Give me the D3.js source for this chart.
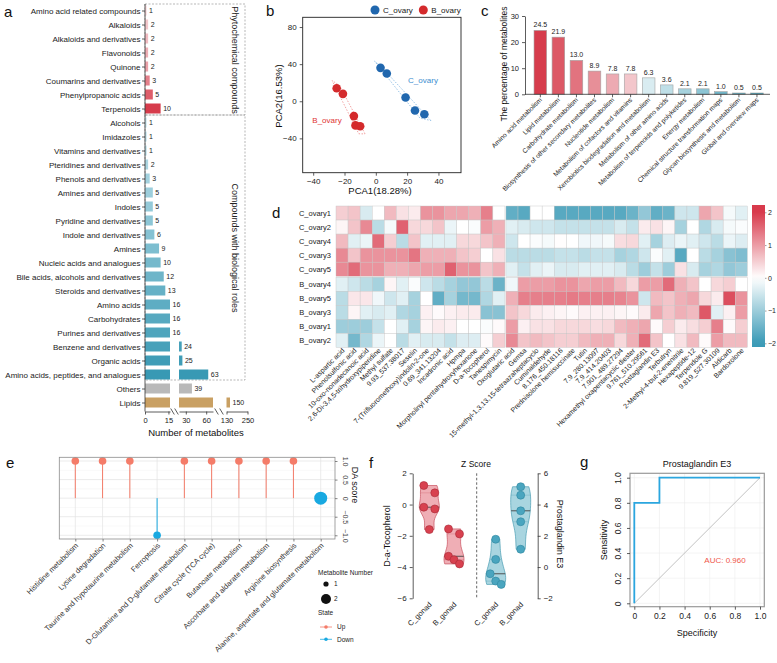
<!DOCTYPE html>
<html>
<head>
<meta charset="utf-8">
<script src="https://cdn.jsdelivr.net/npm/d3@7"></script>
<style>
body { margin: 0; background: #fff; }
svg { display: block; font-family: "Liberation Sans", Arial, sans-serif; }
</style>
</head>
<body>
<div id="fig"></div>
<script>
// ---------- data ----------
const classNames = [
  "Amino acid related compounds", "Alkaloids", "Alkaloids and derivatives", "Flavonoids", "Quinone",
  "Coumarins and derivatives", "Phenylpropanoic acids", "Terpenoids",
  "Alcohols", "Imidazoles", "Vitamins and derivatives", "Pteridines and derivatives", "Phenols and derivatives",
  "Amines and derivatives", "Indoles", "Pyridine and derivatives", "Indole and derivatives", "Amines",
  "Nucleic acids and analogues", "Bile acids, alcohols and derivatives", "Steroids and derivatives",
  "Amino acids", "Carbohydrates", "Purines and derivatives", "Benzene and derivatives", "Organic acids",
  "Amino acids, peptides, and analogues", "Others", "Lipids"
];
const classCounts = [1, 2, 2, 2, 2, 3, 5, 10, 1, 1, 1, 2, 3, 5, 5, 5, 6, 9, 10, 12, 13, 16, 16, 16, 24, 25, 63, 39, 150];
const classGroup = [
  "phyto", "phyto", "phyto", "phyto", "phyto", "phyto", "phyto", "phyto",
  "bio", "bio", "bio", "bio", "bio", "bio", "bio", "bio", "bio", "bio", "bio", "bio", "bio",
  "bio", "bio", "bio", "bio", "bio", "bio", "other", "lipid"
];

const pcaC = [[3, 36], [7, 30], [19, 4], [25, -10], [31, -14]];
const pcaB = [[-25, 14], [-21, 8], [-14, -16], [-13, -26], [-10, -27]];

const pathwayNames = [
  "Amino acid metabolism", "Lipid metabolism", "Carbohydrate metabolism",
  "Biosynthesis of other secondary metabolites", "Nucleotide metabolism",
  "Metabolism of cofactors and vitamins", "Xenobiotics biodegradation and metabolism",
  "Metabolism of other amino acids", "Metabolism of terpenoids and polyketides", "Energy metabolism",
  "Chemical structure transformation maps", "Glycan biosynthesis and metabolism", "Global and overview maps"
];
const pathwayPct = [24.5, 21.9, 13.0, 8.9, 7.8, 7.8, 6.3, 3.6, 2.1, 2.1, 1.0, 0.5, 0.5];

const sampleNames = ["C_ovary1", "C_ovary2", "C_ovary4", "C_ovary3", "C_ovary5",
  "B_ovary4", "B_ovary5", "B_ovary3", "B_ovary1", "B_ovary2"];
const metaboliteNames = [
  "L-aspartic acid", "Phenolsulfonic acid", "10-oxo-nonadecanoic acid", "2,6-Di-3,4,5-trihydroxypiperidine",
  "Methyl sulfate", "9.93_537.38017", "Seselin", "7-(Trifluoromethoxy)indolin-2-one", "0.69_341.13204",
  "Incadronic acid", "Hpmpa", "Morpholinyl pentahydroxyhexanone", "D-a-Tocopherol", "Tanespimycin",
  "Oxoglutaric acid", "Gemsa", "15-methyl-1,3,13,15-tetraazaheptacyclo", "Cuminaldehyde", "8.176_450.18116",
  "Prednisolone hemisuccinate", "Tutin", "7.9_280.13097", "7.9_414.20403", "7.901_489.27294",
  "Hexamethyl oxapentacyclic diester", "9.761_510.29561", "Prostaglandin E3", "Terbutryn",
  "2-Methyl-4-but-2-enenitrile", "Hexapeptide-12", "Terpendole G", "9.819_527.30109", "Aldicarb", "Bardoxolone"
];
const zValues = [
  [0.5, 0.6, -0.4, 0.0, 0.7, 0.3, 0.2, 1.1, 1.1, 0.9, 0.9, 0.8, 1.3, 0.0, -1.6, -1.7, 0.0, 0.0, -1.7, -1.7, -1.7, -1.7, -1.7, -1.7, -1.5, -1.1, -1.6, -1.5, -0.5, -0.5, 0.9, 0.6, -0.1, -0.3],
  [0.1, 0.6, 1.2, -0.7, -0.1, 1.6, 0.4, 0.4, 0.6, -0.2, 0.0, -0.05, 1.0, 0.8, -0.3, -0.4, -0.5, -0.5, -0.6, -0.6, -0.6, -0.6, -0.6, -0.4, -0.6, 0.2, 0.3, 0.1, -0.9, 0.0, -0.8, -0.4, -0.1, -0.05],
  [0.7, -0.3, -0.2, 1.5, 0.5, -0.7, 0.6, -0.3, -0.3, -0.3, 0.4, 0.4, 0.6, 0.8, -0.5, 0.0, -0.05, -0.1, 0.02, 0.0, -0.15, -0.15, -0.1, 0.35, 0.4, -0.3, -0.9, -0.35, -0.2, -0.3, -0.5, -0.7, -0.2, -0.35],
  [1.2, 0.6, 1.1, 1.1, 1.1, 1.1, 1.4, 0.8, 0.8, 0.8, 0.6, 0.5, 0.0, 0.3, -0.7, -0.7, -0.7, -0.7, -0.6, -0.6, -0.7, -0.6, -0.6, -0.9, -0.8, -0.5, -0.05, -0.3, -1.7, 0.0, -0.7, -0.9, -1.2, -1.3],
  [1.2, 1.5, 1.1, 1.1, 0.8, 0.8, 0.9, 1.0, 1.0, 1.6, 1.1, 1.1, 0.6, 0.8, -0.3, -0.6, -0.3, -0.2, -0.4, -0.4, -0.3, -0.3, -0.3, -0.4, -0.7, -1.0, -0.6, -1.0, 0.3, -0.4, -0.9, -0.8, -1.1, -1.0],
  [-0.3, -0.5, -0.7, -0.9, 0.1, -0.3, -0.05, -0.5, -0.7, -0.9, -1.1, -1.1, -0.7, -1.5, -0.15, 1.0, 1.0, 1.0, 1.1, 1.1, 0.9, 1.0, 1.0, 0.7, 0.4, 1.0, 1.0, 1.5, 0.8, 0.6, 0.0, 0.4, 0.5, 0.0],
  [-0.7, 0.25, 0.25, -0.15, -0.5, -0.3, -0.9, 0.0, -1.6, -0.9, -1.4, -1.4, -0.8, -0.3, 0.8, 1.3, 1.3, 1.3, 1.3, 1.35, 1.3, 1.3, 1.3, 1.25, 1.1, -0.5, 0.7, 0.6, 0.8, 0.9, 0.4, 0.2, 1.8, 1.1],
  [-0.7, 0.1, -0.3, -0.4, -0.3, -0.8, -0.9, 0.15, 0.05, 0.15, 0.2, 0.2, -1.2, -1.2, 0.6, 0.4, 0.2, 0.15, 0.1, 0.05, 0.15, 0.15, 0.15, 0.1, 0.05, 0.2, 0.9, 0.6, 0.8, 0.7, 1.7, -0.3, 0.15, 1.0],
  [-1.0, -1.0, -1.0, -0.6, 0.0, -0.3, -0.9, 0.1, 0.2, 0.15, 0.0, 0.0, -0.05, 0.05, 1.0, 0.15, 0.3, 0.3, 0.4, 0.4, 0.4, 0.35, 0.4, 0.7, 0.8, 0.9, 0.05, 0.5, 0.2, 0.35, 0.5, 1.3, 0.05, 0.5],
  [-0.3, -1.4, -0.8, -0.2, 0.0, -0.7, -0.3, -0.4, -0.4, -0.6, -0.35, -0.35, 0.05, 0.5, 1.2, 0.6, 0.7, 0.6, 0.5, 0.5, 0.7, 0.8, 0.8, 0.4, 0.8, 1.5, 0.6, 0.0, 0.3, 0.7, 0.05, 1.0, 0.7, 0.7]
];
const heatTicks = [2, 1, 0, -1, -2];

const daPathways = [
  "Histidine metabolism", "Lysine degradation", "Taurine and hypotaurine metabolism", "Ferroptosis",
  "D-Glutamine and D-glutamate metabolism", "Citrate cycle (TCA cycle)", "Butanoate metabolism",
  "Ascorbate and aldarate metabolism", "Arginine biosynthesis", "Alanine, aspartate and glutamate metabolism"
];
const daScores = [1, 1, 1, -1, 1, 1, 1, 1, 1, 0];
const daCounts = [1, 1, 1, 1, 1, 1, 1, 1, 1, 2];
const daState = ["Up", "Up", "Up", "Down", "Up", "Up", "Up", "Up", "Up", "Down"];

const gonadGroups = ["C_gonad", "B_gonad"];
const tocoC = [1.22, 0.75, -0.17, -0.28, -1.6];
const tocoB = [-1.56, -1.88, -3.31, -3.53, -3.8];
const pgC = [1.78, 0.49, -0.43, -0.9, -1.11];
const pgB = [5.14, 4.6, 3.6, 2.9, 1.14];

const rocX = [0, 0, 0.2, 0.2, 1.0];
const rocY = [0, 0.8, 0.8, 1.0, 1.0];
const aucLabel = "AUC: 0.960";

// ---------- setup ----------
const W = 777, H = 663;
const FONT = "'Liberation Sans', Arial, sans-serif";
const svg = d3.select("#fig").append("svg")
  .attr("width", W).attr("height", H)
  .attr("viewBox", `0 0 ${W} ${H}`);
svg.append("rect").attr("width", W).attr("height", H).attr("fill", "#fff");

const RED = "#d63c4c", TEAL = "#3a9ab6";

function styleAxis(g, fs) {
  g.attr("font-family", FONT).attr("font-size", fs);
  g.selectAll("path, line").attr("stroke", "#333").attr("stroke-width", 0.8);
  g.selectAll("text").attr("fill", "#222");
}
function panelLabel(t, x, y) {
  svg.append("text").attr("x", x).attr("y", y).attr("font-size", 15).attr("fill", "#111").text(t);
}

panelLabel("a", 4, 17);
panelLabel("b", 266, 16);
panelLabel("c", 481, 16);
panelLabel("d", 272, 218);
panelLabel("e", 6, 468);
panelLabel("f", 369, 468);
panelLabel("g", 580, 467);

// ---------- panel a ----------
const gA = svg.append("g");
const yA = d3.scalePoint().domain(classNames).range([10.5, 402.5]);
const segA = [
  { x: d3.scaleLinear().domain([0, 16]).range([145, 170]), ticks: [0, 15] },
  { x: d3.scaleLinear().domain([20, 70]).range([179, 213]), ticks: [30, 60] },
  { x: d3.scaleLinear().domain([130, 250]).range([226.5, 247.5]), ticks: [130, 250] }
];
const phytoCol = d3.scaleLinear().domain([0, 4, 7]).range(["#f4d3d7", "#eba2aa", RED]);
const bioCol = d3.scaleLinear().domain([0, 18]).range(["#c2e2eb", "#3899b4"]);
function classColor(i) {
  const g = classGroup[i];
  if (g === "phyto") return phytoCol(i);
  if (g === "bio") return bioCol(i - 8);
  if (g === "other") return "#b9b9b9";
  return "#c9a063";
}

// group boxes
gA.append("rect").attr("x", 145).attr("y", 4).attr("width", 100).attr("height", 111)
  .attr("fill", "none").attr("stroke", "#999").attr("stroke-width", 0.7).attr("stroke-dasharray", "2,1.5");
gA.append("rect").attr("x", 145).attr("y", 115).attr("width", 100).attr("height", 265)
  .attr("fill", "none").attr("stroke", "#999").attr("stroke-width", 0.7).attr("stroke-dasharray", "2,1.5");
gA.append("text").attr("transform", "translate(232,60) rotate(90)").attr("text-anchor", "middle")
  .attr("font-size", 9).attr("fill", "#222").text("Phytochemical compounds");
gA.append("text").attr("transform", "translate(232,248) rotate(90)").attr("text-anchor", "middle")
  .attr("font-size", 9).attr("fill", "#222").text("Compounds with biological roles");

classNames.forEach((name, i) => {
  const v = classCounts[i];
  const y = yA(name);
  let endX = 145;
  segA.forEach(s => {
    const [d0, d1] = s.x.domain();
    if (v > d0) {
      const x0 = s.x(d0), x1 = s.x(Math.min(v, d1));
      gA.append("rect").attr("x", x0).attr("y", y - 5).attr("width", Math.max(x1 - x0, 1.4)).attr("height", 10)
        .attr("fill", classColor(i));
      endX = x0 + Math.max(x1 - x0, 1.4);
    }
  });
  gA.append("text").attr("x", endX + 2.5).attr("y", y + 2.5).attr("font-size", 7).attr("fill", "#222").text(v);
});

// y axis
const gAy = gA.append("g").attr("transform", "translate(145,0)")
  .call(d3.axisLeft(yA).tickSize(3).tickSizeOuter(0));
styleAxis(gAy, 8);
gAy.select(".domain").attr("d", "M0,4V411.5");
gAy.selectAll("text").attr("x", -4.5);

// x axis segments
segA.forEach(s => {
  const g = gA.append("g").attr("transform", "translate(0,411.5)")
    .call(d3.axisBottom(s.x).tickValues(s.ticks).tickSize(3).tickSizeOuter(0));
  styleAxis(g, 7.5);
});
[172.5, 176.5, 216.5, 221.5].forEach(x => {
  gA.append("line").attr("x1", x - 1.8).attr("y1", 408.5).attr("x2", x + 1.8).attr("y2", 414.5)
    .attr("stroke", "#333").attr("stroke-width", 0.8);
});
gA.append("text").attr("x", 196).attr("y", 436).attr("text-anchor", "middle").attr("font-size", 9.5)
  .attr("fill", "#111").text("Number of metabolites");

// ---------- panel b ----------
const gB = svg.append("g");
const xB = d3.scaleLinear().domain([-46.7, 54.4]).range([302.7, 461]);
const yB = d3.scaleLinear().domain([-77, 90.5]).range([172.7, 17.3]);
const colC = "#2067ae", colB = "#d42a2c";

function hullPath(pts) {
  const px = pts.map(p => [xB(p[0]), yB(p[1])]);
  const h = d3.polygonHull(px);
  const c = d3.polygonCentroid(h);
  const ex = h.map(([x, y]) => {
    const dx = x - c[0], dy = y - c[1], L = Math.hypot(dx, dy);
    return [x + dx / L * 9, y + dy / L * 9];
  });
  return "M" + ex.join("L") + "Z";
}
gB.append("path").attr("d", hullPath(pcaC)).attr("fill", "none").attr("stroke", "#7db4df")
  .attr("stroke-width", 0.8).attr("stroke-dasharray", "1.5,1.5");
gB.append("path").attr("d", hullPath(pcaB)).attr("fill", "none").attr("stroke", "#ef8d8d")
  .attr("stroke-width", 0.8).attr("stroke-dasharray", "1.5,1.5");

gB.selectAll(".pc").data(pcaC).join("circle").attr("cx", d => xB(d[0])).attr("cy", d => yB(d[1]))
  .attr("r", 4.3).attr("fill", colC);
gB.selectAll(".pb").data(pcaB).join("circle").attr("cx", d => xB(d[0])).attr("cy", d => yB(d[1]))
  .attr("r", 4.3).attr("fill", colB);
gB.append("text").attr("x", 423).attr("y", 83).attr("text-anchor", "middle").attr("font-size", 8)
  .attr("fill", "#3d8ecf").text("C_ovary");
gB.append("text").attr("x", 327).attr("y", 123).attr("text-anchor", "middle").attr("font-size", 8)
  .attr("fill", "#e03333").text("B_ovary");

gB.append("rect").attr("x", 302.7).attr("y", 17.3).attr("width", 461 - 302.7).attr("height", 172.7 - 17.3)
  .attr("fill", "none").attr("stroke", "#222").attr("stroke-width", 0.9);
const gBx = gB.append("g").attr("transform", "translate(0,172.7)")
  .call(d3.axisBottom(xB).tickValues([-40, -20, 0, 20, 40]).tickSize(3).tickSizeOuter(0));
styleAxis(gBx, 8);
gBx.select(".domain").remove();
const gBy = gB.append("g").attr("transform", "translate(302.7,0)")
  .call(d3.axisLeft(yB).tickValues([-40, 0, 40, 80]).tickSize(3).tickSizeOuter(0));
styleAxis(gBy, 8);
gBy.select(".domain").remove();
gB.append("text").attr("x", 380).attr("y", 194).attr("text-anchor", "middle").attr("font-size", 9.5)
  .attr("fill", "#111").text("PCA1(18.28%)");
gB.append("text").attr("transform", "translate(282,96) rotate(-90)").attr("text-anchor", "middle")
  .attr("font-size", 9.5).attr("fill", "#111").text("PCA2(16.53%)");
// legend
const legB = [["C_ovary", colC, 375], ["B_ovary", colB, 423.3]];
legB.forEach(([t, c, x]) => {
  gB.append("circle").attr("cx", x).attr("cy", 10).attr("r", 4.5).attr("fill", c);
  gB.append("text").attr("x", x + 8).attr("y", 13).attr("font-size", 8).attr("fill", "#222").text(t);
});

// ---------- panel c ----------
svg.append("clipPath").attr("id", "clipC").append("rect")
  .attr("x", 390).attr("y", 0).attr("width", 387).attr("height", 200);
const gC = svg.append("g").attr("clip-path", "url(#clipC)");
const xC = d3.scaleBand().domain(pathwayNames).range([528.6, 768.7]).paddingInner(0.3).paddingOuter(0.3);
const yC = d3.scaleLinear().domain([0, 30]).range([94.3, 16]);
const redsC = d3.scaleLinear().domain([0, 5]).range(["#d63c4c", "#f3c6cb"]);
const bluesC = d3.scaleLinear().domain([6, 12]).range(["#d9ecf1", "#3f9db6"]);
gC.selectAll(".barc").data(pathwayNames).join("rect")
  .attr("x", d => xC(d)).attr("width", xC.bandwidth())
  .attr("y", (d, i) => yC(pathwayPct[i])).attr("height", (d, i) => yC(0) - yC(pathwayPct[i]))
  .attr("fill", (d, i) => i <= 5 ? redsC(i) : bluesC(i))
  .attr("stroke", "#a3a3a3").attr("stroke-width", 0.6);
gC.selectAll(".valc").data(pathwayNames).join("text")
  .attr("x", d => xC(d) + xC.bandwidth() / 2).attr("y", (d, i) => yC(pathwayPct[i]) - 3)
  .attr("text-anchor", "middle").attr("font-size", 7).attr("fill", "#222")
  .text((d, i) => pathwayPct[i].toFixed(1));
const gCy = gC.append("g").attr("transform", "translate(525,0)")
  .call(d3.axisLeft(yC).tickValues([0, 10, 20, 30]).tickSize(3).tickSizeOuter(0));
styleAxis(gCy, 7.5);
const gCx = gC.append("g").attr("transform", "translate(0,94.3)")
  .call(d3.axisBottom(xC).tickSize(3).tickSizeOuter(0));
styleAxis(gCx, 6.6);
gCx.select(".domain").attr("d", "M525,0H770");
gCx.selectAll("text").attr("text-anchor", "end").attr("dy", 0).attr("y", 0)
  .attr("transform", "translate(2,6) rotate(-45)");
gC.append("text").attr("transform", "translate(507,64) rotate(-90)").attr("text-anchor", "middle")
  .attr("font-size", 8.5).attr("fill", "#111").text("The percentage of metabolites");

// ---------- panel d ----------
const gD = svg.append("g");
const xH = d3.scaleBand().domain(d3.range(metaboliteNames.length)).range([336, 746.3]);
const yH = d3.scaleBand().domain(d3.range(sampleNames.length)).range([206, 346.4]);
const heatCol = d3.scaleLinear().domain([-2, 0, 2]).range([TEAL, "#ffffff", "#d83a4c"]).clamp(true);
const colX = j => xH(j) + (j >= 14 ? 1 : 0);
const rowY = i => yH(i) + (i >= 5 ? 1 : 0);
zValues.forEach((row, i) => {
  row.forEach((v, j) => {
    gD.append("rect").attr("x", colX(j)).attr("y", rowY(i))
      .attr("width", xH.bandwidth()).attr("height", yH.bandwidth())
      .attr("fill", heatCol(v)).attr("stroke", "#c4c4c4").attr("stroke-width", 0.4);
  });
});
gD.selectAll(".rowlab").data(sampleNames).join("text")
  .attr("x", 331).attr("y", (d, i) => rowY(i) + yH.bandwidth() / 2 + 2.6)
  .attr("text-anchor", "end").attr("font-size", 7.5).attr("fill", "#222").text(d => d);
gD.selectAll(".collab").data(metaboliteNames).join("text")
  .attr("transform", (d, j) => `translate(${colX(j) + xH.bandwidth() / 2 + 3},351) rotate(-45)`)
  .attr("text-anchor", "end").attr("font-size", 7).attr("fill", "#222").text(d => d);
// colour key
const yKey = d3.scaleLinear().domain([-2, 2]).range([343.3, 212.3]);
const grad = svg.append("defs").append("linearGradient").attr("id", "heatGrad")
  .attr("x1", 0).attr("y1", 1).attr("x2", 0).attr("y2", 0);
const kLo = yKey.invert(347), kHi = yKey.invert(205);
grad.selectAll("stop").data(d3.range(0, 1.0001, 0.05)).join("stop")
  .attr("offset", d => `${d * 100}%`)
  .attr("stop-color", d => heatCol(kLo + d * (kHi - kLo)));
gD.append("rect").attr("x", 752).attr("y", 205).attr("width", 13).attr("height", 142).attr("fill", "url(#heatGrad)");
const gKey = gD.append("g").attr("transform", "translate(765,0)")
  .call(d3.axisRight(yKey).tickValues(heatTicks).tickSize(1.5).tickPadding(1.5).tickFormat(d3.format("d")));
styleAxis(gKey, 7);
gKey.select(".domain").remove();
gKey.selectAll("line").attr("stroke", "#888");

// ---------- panel e ----------
const gE = svg.append("g");
const xE = d3.scalePoint().domain(daPathways).range([75.3, 320.7]);
const yE = d3.scaleLinear().domain([-1.1, 1.1]).range([539, 457.3]);
const stateCol = { Up: "#f47c69", Down: "#19a9e1" };
[-0.75, -0.25, 0.25, 0.75].forEach(v => {
  gE.append("line").attr("x1", 59.3).attr("x2", 335).attr("y1", yE(v)).attr("y2", yE(v))
    .attr("stroke", "#f1f1f1").attr("stroke-width", 0.5);
});
[-1, -0.5, 0, 0.5, 1].forEach(v => {
  gE.append("line").attr("x1", 59.3).attr("x2", 335).attr("y1", yE(v)).attr("y2", yE(v))
    .attr("stroke", "#e3e3e3").attr("stroke-width", 0.7);
});
daPathways.forEach(p => {
  gE.append("line").attr("x1", xE(p)).attr("x2", xE(p)).attr("y1", 457.3).attr("y2", 539)
    .attr("stroke", "#e3e3e3").attr("stroke-width", 0.7);
});
daPathways.forEach((p, i) => {
  gE.append("line").attr("x1", xE(p)).attr("x2", xE(p)).attr("y1", yE(0)).attr("y2", yE(daScores[i]))
    .attr("stroke", stateCol[daState[i]]).attr("stroke-width", 1);
});
daPathways.forEach((p, i) => {
  gE.append("circle").attr("cx", xE(p)).attr("cy", yE(daScores[i]))
    .attr("r", daCounts[i] === 2 ? 6.5 : 3.8).attr("fill", stateCol[daState[i]]);
});
gE.append("rect").attr("x", 59.3).attr("y", 457.3).attr("width", 335 - 59.3).attr("height", 539 - 457.3)
  .attr("fill", "none").attr("stroke", "#8c8c8c").attr("stroke-width", 0.8);
const gEy = gE.append("g").attr("transform", "translate(335,0)")
  .call(d3.axisRight(yE).tickValues([-1, -0.5, 0, 0.5, 1]).tickSize(2.5).tickFormat(d => d === 0 ? "0" : d3.format(".1f")(d)));
styleAxis(gEy, 7);
gEy.select(".domain").remove();
gEy.selectAll("line").attr("stroke", "#666");
gEy.selectAll("text").attr("text-anchor", "middle").attr("dy", 0).attr("x", 0)
  .attr("transform", "translate(8,0) rotate(90)").attr("fill", "#444");
gE.append("text").attr("transform", "translate(352,485) rotate(90)").attr("text-anchor", "middle")
  .attr("font-size", 9).attr("fill", "#111").text("DA score");
const gEx = gE.append("g").attr("transform", "translate(0,539)")
  .call(d3.axisBottom(xE).tickSize(2.5).tickSizeOuter(0));
styleAxis(gEx, 7.5);
gEx.select(".domain").remove();
gEx.selectAll("line").attr("stroke", "#666");
gEx.selectAll("text").attr("text-anchor", "end").attr("dy", 0).attr("y", 0)
  .attr("transform", "translate(3,7) rotate(-45)").attr("fill", "#333");
// legend
gE.append("text").attr("x", 318).attr("y", 575).attr("font-size", 6.5).attr("fill", "#222").text("Metabolite Number");
[[1, 584, 2.6], [2, 599, 5]].forEach(([n, y, r]) => {
  gE.append("circle").attr("cx", 326).attr("cy", y).attr("r", r).attr("fill", "#111");
  gE.append("text").attr("x", 334).attr("y", y + 2.3).attr("font-size", 6.5).attr("fill", "#222").text(n);
});
gE.append("text").attr("x", 318).attr("y", 615).attr("font-size", 6.5).attr("fill", "#222").text("State");
[["Up", 627], ["Down", 639.3]].forEach(([s, y]) => {
  gE.append("line").attr("x1", 320).attr("x2", 332).attr("y1", y).attr("y2", y)
    .attr("stroke", stateCol[s]).attr("stroke-width", 0.8);
  gE.append("circle").attr("cx", 326).attr("cy", y).attr("r", 1.8).attr("fill", stateCol[s]);
  gE.append("text").attr("x", 337).attr("y", y + 2.3).attr("font-size", 6.5).attr("fill", "#222").text(s);
});

// ---------- panel f ----------
const gF = svg.append("g");
const yFL = d3.scaleLinear().domain([-6, 2]).range([598.3, 473.3]);
const yFR = d3.scaleLinear().domain([-2, 6]).range([598.3, 473.3]);
const xFL = d3.scalePoint().domain(gonadGroups).range([429.3, 454]);
const xFR = d3.scalePoint().domain(gonadGroups).range([495.7, 520.7]);

function nrd0(v) {
  const s = v.slice().sort(d3.ascending);
  const sd = d3.deviation(s);
  const iqr = d3.quantile(s, 0.75) - d3.quantile(s, 0.25);
  const lo = Math.min(sd, iqr / 1.34) || sd;
  return 0.9 * lo * Math.pow(s.length, -0.2);
}
function violin(values, cx, yS, fill, stroke, ptFill, ptStroke) {
  const bw = nrd0(values);
  const lo = d3.min(values), hi = d3.max(values);
  const ys = d3.range(0, 21).map(k => lo + (hi - lo) * k / 20);
  const dens = ys.map(y => d3.mean(values, v => Math.exp(-0.5 * ((y - v) / bw) ** 2)));
  const wS = d3.scaleLinear().domain([0, d3.max(dens)]).range([0, 10]);
  const pts = ys.map((y, k) => [y, dens[k]]);
  const area = d3.area().curve(d3.curveLinear)
    .y(d => yS(d[0])).x0(d => cx - wS(d[1])).x1(d => cx + wS(d[1]));
  gF.append("path").attr("d", area(pts)).attr("fill", fill).attr("fill-opacity", 0.8)
    .attr("stroke", stroke).attr("stroke-width", 0.7);
  const s = values.slice().sort(d3.ascending);
  [0.25, 0.75].forEach(q => {
    const v = d3.quantile(s, q);
    const dv = d3.mean(values, u => Math.exp(-0.5 * ((v - u) / bw) ** 2));
    gF.append("line").attr("x1", cx - wS(dv)).attr("x2", cx + wS(dv)).attr("y1", yS(v)).attr("y2", yS(v))
      .attr("stroke", stroke).attr("stroke-width", 0.4).attr("stroke-opacity", 0.7);
  });
  const med = d3.median(values);
  const dm = d3.mean(values, u => Math.exp(-0.5 * ((med - u) / bw) ** 2));
  gF.append("line").attr("x1", cx - wS(dm)).attr("x2", cx + wS(dm)).attr("y1", yS(med)).attr("y2", yS(med))
    .attr("stroke", "#444").attr("stroke-width", 0.9);
  // dodge close points
  const sorted = values.slice().sort((a, b) => b - a);
  const clusters = [];
  sorted.forEach(v => {
    const last = clusters[clusters.length - 1];
    if (last && Math.abs(yS(last[last.length - 1]) - yS(v)) < 8) last.push(v);
    else clusters.push([v]);
  });
  clusters.forEach(cl => {
    cl.forEach((v, k) => {
      const off = cl.length === 1 ? 0 : -5.5 + 11 * k / (cl.length - 1);
      gF.append("circle").attr("cx", cx + off).attr("cy", yS(v)).attr("r", 4)
        .attr("fill", ptFill).attr("stroke", ptStroke).attr("stroke-width", 0.6);
    });
  });
}
violin(tocoC, xFL("C_gonad"), yFL, "#eb9aa3", "#c9505e", "#d8414f", "#a82a38");
violin(tocoB, xFL("B_gonad"), yFL, "#eb9aa3", "#c9505e", "#d8414f", "#a82a38");
violin(pgC, xFR("C_gonad"), yFR, "#93cad8", "#4a9db3", "#4aa5bf", "#2d869f");
violin(pgB, xFR("B_gonad"), yFR, "#93cad8", "#4a9db3", "#4aa5bf", "#2d869f");

gF.append("line").attr("x1", 476.7).attr("x2", 476.7).attr("y1", 473.3).attr("y2", 598.3)
  .attr("stroke", "#555").attr("stroke-width", 0.9).attr("stroke-dasharray", "2.5,2");
const gFl = gF.append("g").attr("transform", "translate(412.7,0)")
  .call(d3.axisLeft(yFL).tickValues([-6, -4, -2, 0, 2]).tickSize(3).tickSizeOuter(0));
styleAxis(gFl, 8);
const gFr = gF.append("g").attr("transform", "translate(537.7,0)")
  .call(d3.axisRight(yFR).tickValues([-2, 0, 2, 4, 6]).tickSize(3).tickSizeOuter(0));
styleAxis(gFr, 8);
gF.append("text").attr("x", 476).attr("y", 467).attr("text-anchor", "middle").attr("font-size", 8.5)
  .attr("fill", "#111").text("Z Score");
gF.append("text").attr("transform", "translate(390,536) rotate(-90)").attr("text-anchor", "middle")
  .attr("font-size", 9).attr("fill", "#111").text("D-a-Tocopherol");
gF.append("text").attr("transform", "translate(557,534) rotate(90)").attr("text-anchor", "middle")
  .attr("font-size", 9).attr("fill", "#111").text("Prostaglandin E3");
[xFL, xFR].forEach(sc => {
  gonadGroups.forEach(g => {
    gF.append("text").attr("transform", `translate(${sc(g) + 3},605) rotate(-45)`)
      .attr("text-anchor", "end").attr("font-size", 7.5).attr("fill", "#222").text(g);
  });
});

// ---------- panel g ----------
const gG = svg.append("g");
const xG = d3.scaleLinear().domain([0, 1]).range([634.3, 760]);
const yG = d3.scaleLinear().domain([0, 1]).range([603.3, 477.7]);
d3.range(0, 1.01, 0.2).forEach(v => {
  gG.append("line").attr("x1", xG(v)).attr("x2", xG(v)).attr("y1", 473.3).attr("y2", 606.7)
    .attr("stroke", "#ededed").attr("stroke-width", 0.6);
  gG.append("line").attr("y1", yG(v)).attr("y2", yG(v)).attr("x1", 630).attr("x2", 764.3)
    .attr("stroke", "#ededed").attr("stroke-width", 0.6);
});
gG.append("line").attr("x1", xG(0)).attr("y1", yG(0)).attr("x2", xG(1)).attr("y2", yG(1))
  .attr("stroke", "#b3b3b3").attr("stroke-width", 0.8);
gG.append("path").datum(rocX.map((x, i) => [x, rocY[i]]))
  .attr("d", d3.line().x(d => xG(d[0])).y(d => yG(d[1])))
  .attr("fill", "none").attr("stroke", "#2ba6df").attr("stroke-width", 1.8);
gG.append("rect").attr("x", 630).attr("y", 473.3).attr("width", 764.3 - 630).attr("height", 606.7 - 473.3)
  .attr("fill", "none").attr("stroke", "#9a9a9a").attr("stroke-width", 1.2);
const gGx = gG.append("g").attr("transform", "translate(0,606.7)")
  .call(d3.axisBottom(xG).tickValues([0, 0.2, 0.4, 0.6, 0.8, 1]).tickSize(3).tickSizeOuter(0)
    .tickFormat(d => d === 0 ? "0" : d3.format(".1f")(d)));
styleAxis(gGx, 8.5);
gGx.select(".domain").remove();
const gGy = gG.append("g").attr("transform", "translate(630,0)")
  .call(d3.axisLeft(yG).tickValues([0, 0.2, 0.4, 0.6, 0.8, 1]).tickSize(3).tickSizeOuter(0)
    .tickFormat(d => d === 0 ? "0" : d3.format(".1f")(d)));
styleAxis(gGy, 8.5);
gGy.select(".domain").remove();
gGy.selectAll("text").attr("text-anchor", "middle").attr("dy", 0).attr("x", 0)
  .attr("transform", "translate(-9,0) rotate(-90)");
gG.append("text").attr("x", 697).attr("y", 467).attr("text-anchor", "middle").attr("font-size", 9)
  .attr("fill", "#111").text("Prostaglandin E3");
gG.append("text").attr("x", 697).attr("y", 636).attr("text-anchor", "middle").attr("font-size", 9)
  .attr("fill", "#111").text("Specificity");
gG.append("text").attr("transform", "translate(607,540) rotate(-90)").attr("text-anchor", "middle")
  .attr("font-size", 9).attr("fill", "#111").text("Sensitivity");
gG.append("text").attr("x", 725).attr("y", 563).attr("text-anchor", "middle").attr("font-size", 8)
  .attr("fill", "#f0574b").text(aucLabel);
</script>
</body>
</html>
